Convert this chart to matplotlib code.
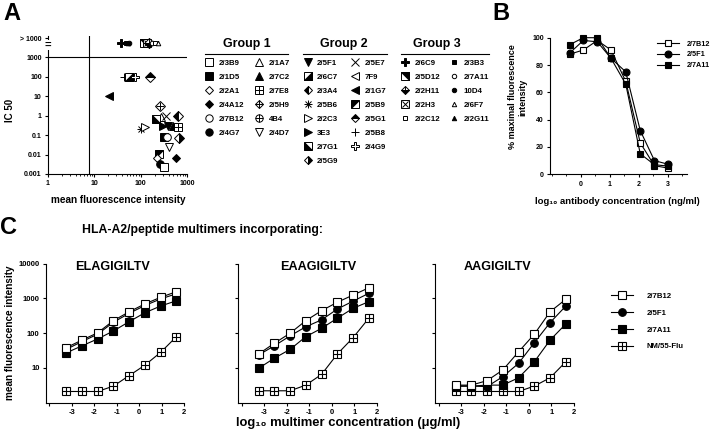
import numpy as np
import matplotlib
matplotlib.use("Agg")
import matplotlib.pyplot as plt
from matplotlib.lines import Line2D
from matplotlib.path import Path
from matplotlib.ticker import FixedLocator, NullLocator, LogLocator, NullFormatter, MultipleLocator

plt.rcParams['font.family'] = ['Liberation Sans', 'DejaVu Sans']
plt.rcParams['font.weight'] = 'bold'
plt.rcParams['axes.linewidth'] = 0.8
for a in ('xtick', 'ytick'):
    plt.rcParams[a + '.major.width'] = 0.8
    plt.rcParams[a + '.minor.width'] = 0.6
    plt.rcParams[a + '.major.size'] = 2.5
    plt.rcParams[a + '.minor.size'] = 1.5
    plt.rcParams[a + '.major.pad'] = 2

# ---------------- data ----------------
# Panel A: clone, mean fluorescence intensity, IC50
a_clones = ['2/6C9', '2/3B3', '2/2G11', '10D4', '2/5D12', '2/2H3', '2/2H11', '2/7A11', '2/2C12', '2/6F7',
            '2/5B8', '2/6C7', '2/4G9', '2/5G1', '2/1G7', '2/5H9', '2/1A7', '2/5E7', '2/3A4', '2/7G1',
            '2/5B6', '2/2C3', '3E3', '2/5F1', '2/7C2', '2/7E8', '2/1D5', '2/7B12', '2/5G9',
            '2/4D7', '2/5B9', '2/2A1', '2/4A12', '2/4G7', '2/3B9']
a_mfi = [38, 48, 52, 56, 120, 135, 150, 175, 200, 235,
         44, 56, 74, 162, 20.6, 257, 279, 346, 646, 210,
         103, 122, 303, 387, 510, 635, 312, 369, 667,
         405, 247, 224, 585, 264, 317]
a_ic50 = [5500, 5500, 5500, 5500, 5500, 5500, 5500, 5500, 5500, 5500,
          100, 100, 100, 100, 10, 3.1, 0.87, 1.0, 0.93, 0.64,
          0.2, 0.27, 0.29, 0.29, 0.29, 0.27, 0.081, 0.077, 0.072,
          0.023, 0.011, 0.0064, 0.0064, 0.0033, 0.0024]
a_yticks = [1e-3, 1e-2, 1e-1, 1, 10, 100, 1000, 9000]
a_yticklabels = ['0.001', '0.01', '0.1', '1', '10', '100', '1000', '> 1000']
a_xticks = [1, 10, 100, 1000]
a_xticklabels = ['1', '10', '100', '1000']

group_names = ['Group 1', 'Group 2', 'Group 3']
g1_col1 = ['2/3B9', '2/1D5', '2/2A1', '2/4A12', '2/7B12', '2/4G7']
g1_col2 = ['2/1A7', '2/7C2', '2/7E8', '2/5H9', '4B4', '2/4D7']
g2_col1 = ['2/5F1', '2/6C7', '2/3A4', '2/5B6', '2/2C3', '3E3', '2/7G1', '2/5G9']
g2_col2 = ['2/5E7', '7F9', '2/1G7', '2/5B9', '2/5G1', '2/5B8', '2/4G9']
g3_col1 = ['2/6C9', '2/5D12', '2/2H11', '2/2H3', '2/2C12']
g3_col2 = ['2/3B3', '2/7A11', '10D4', '2/6F7', '2/2G11']

# Panel B
b_logconc = [-0.37, 0.09, 0.57, 1.04, 1.55, 2.05, 2.54, 3.02]
b_7B12 = [88, 91, 98, 91, 68, 23, 6.3, 4.5]
b_5F1 = [89, 98, 97, 85, 75, 32, 10, 7.3]
b_7A11 = [95, 100, 100, 85, 66, 15, 7, 6]
b_series = ['2/7B12', '2/5F1', '2/7A11']

# Panel C
c_logconc = [-3.25, -2.55, -1.85, -1.15, -0.45, 0.25, 0.95, 1.65]
c_peptides = ['ELAGIGILTV', 'EAAGIGILTV', 'AAGIGILTV']
c_series = ['2/7B12', '2/5F1', '2/7A11', 'NM/55-Flu']
c_7B12 = [[38, 63, 102, 228, 410, 690, 1070, 1550],
          [25, 51, 99, 228, 440, 770, 1240, 2000],
          [3.2, 3.2, 4.3, 8.7, 29, 93, 410, 940]]
c_5F1 = [[34, 57, 93, 205, 370, 620, 960, 1350],
         [23.5, 43, 83, 152, 240, 490, 830, 1390],
         [3.0, 3.0, 2.9, 5.6, 13.5, 53, 200, 600]]
c_7A11 = [[27, 43, 68, 115, 213, 385, 600, 850],
          [9.7, 19, 34, 79, 137, 268, 515, 800],
          [3.0, 3.0, 3.2, 3.2, 5.2, 15, 63, 183]]
c_NM55 = [[2.1, 2.1, 2.1, 3.0, 6.0, 12, 28, 79],
          [2.2, 2.2, 2.2, 3.2, 6.5, 25, 74, 268],
          [2.1, 2.1, 2.1, 2.1, 2.1, 3.0, 5.2, 15]]
c_xticks = [-4, -3, -2, -1, 0, 1, 2]
c_xticklabels = ['', '-3', '-2', '-1', '0', '1', '2']
c_yticks = [10, 100, 1000, 10000]
c_yticklabels = ['10', '100', '1000', '10000']

# ---------------- marker styles ----------------
def tri(v):
    return Path(v + [v[0]], closed=True)

TRI_LR = tri([(-1, -1), (1, -1), (1, 1)])
TRI_LL = tri([(-1, -1), (1, -1), (-1, 1)])
TRI_UL = tri([(-1, 1), (1, 1), (-1, -1)])
TRI_UR = tri([(-1, 1), (1, 1), (1, -1)])

W_, K_ = 'white', 'black'
STY = {
    '2/3B9': [('s', W_, 1, 'full')],
    '2/1D5': [('s', K_, 1, 'full')],
    '2/2A1': [('D', W_, 0.8, 'full')],
    '2/4A12': [('D', K_, 0.8, 'full')],
    '2/7B12': [('o', W_, 1, 'full')],
    '2/4G7': [('o', K_, 1, 'full')],
    '2/1A7': [('^', W_, 1, 'full')],
    '2/7C2': [('^', K_, 1, 'full')],
    '2/7E8': [('s', W_, 1, 'full'), ('+', K_, 1, 'full')],
    '2/5H9': [('D', W_, 0.85, 'full'), ('+', K_, 1.1, 'full')],
    '4B4': [('o', W_, 1, 'full'), ('+', K_, 1, 'full')],
    '2/4D7': [('v', W_, 1, 'full')],
    '2/5F1': [('v', K_, 1, 'full')],
    '2/6C7': [('s', W_, 1, 'full'), (TRI_LR, K_, 1, 'full')],
    '2/3A4': [('D', K_, 0.85, 'left')],
    '2/5B6': [('+', K_, 1.1, 'full'), ('x', K_, 0.9, 'full')],
    '2/2C3': [('>', W_, 1, 'full')],
    '3E3': [('>', K_, 1, 'full')],
    '2/7G1': [('s', W_, 1, 'full'), (TRI_LL, K_, 1, 'full')],
    '2/5G9': [('D', K_, 0.85, 'right')],
    '2/5E7': [('x', K_, 1, 'full')],
    '7F9': [('<', W_, 1, 'full')],
    '2/1G7': [('<', K_, 1, 'full')],
    '2/5B9': [('s', W_, 1, 'full'), (TRI_UL, K_, 1, 'full')],
    '2/5G1': [('D', K_, 0.85, 'top')],
    '2/5B8': [('+', K_, 1.1, 'full')],
    '2/4G9': [('P', W_, 1.1, 'full')],
    '2/6C9': [('P', K_, 1.1, 'full')],
    '2/5D12': [('s', W_, 1, 'full'), (TRI_UR, K_, 1, 'full')],
    '2/2H11': [('D', K_, 0.85, 'bottom'), ('+', K_, 1.2, 'full')],
    '2/2H3': [('s', W_, 1, 'full'), ('x', K_, 0.9, 'full')],
    '2/2C12': [('s', W_, 0.6, 'full')],
    '2/3B3': [('s', K_, 0.6, 'full')],
    '2/7A11': [('o', W_, 0.6, 'full')],
    '10D4': [('o', K_, 0.6, 'full')],
    '2/6F7': [('^', W_, 0.6, 'full')],
    '2/2G11': [('^', K_, 0.6, 'full')],
}
MS_A = 5.5


def layer_kw(m, fc, sf, fs, ms):
    return dict(marker=m, mfc=fc, mfcalt='white', mec='black', color='black',
                fillstyle=fs, ms=ms * sf, mew=0.7)


def make_handle(name, ms=5.3):
    hs = [Line2D([], [], ls='none', **layer_kw(*ly, ms)) for ly in STY[name]]
    return tuple(hs) if len(hs) > 1 else hs[0]


W, H = 720, 438
fig = plt.figure(figsize=(7.2, 4.38), dpi=100)


def fx(x):
    return x / W


def fy(y):
    return 1 - y / H


def style_axes(ax, ls=5.0):
    for s in ('top', 'right'):
        ax.spines[s].set_visible(False)
    ax.tick_params(labelsize=ls, direction='out', which='both')


# ---------------- Panel A ----------------
axA = fig.add_axes([fx(48), fy(174), fx(187) - fx(48), fy(36) - fy(174)])
style_axes(axA)
axA.set_xscale('log')
axA.set_yscale('log')
axA.set_xlim(1, 1000)
axA.set_ylim(1e-3, 1.2e4)
axA.axhline(1000, color='black', lw=0.8)
axA.axvline(7.5, color='black', lw=0.8)
for n, xv, yv in zip(a_clones, a_mfi, a_ic50):
    for ly in STY[n]:
        axA.plot([xv], [yv], ls='none', clip_on=False, zorder=3, **layer_kw(*ly, MS_A))
axA.yaxis.set_major_locator(FixedLocator(a_yticks))
axA.set_yticklabels(a_yticklabels)
axA.yaxis.set_minor_locator(NullLocator())
axA.xaxis.set_major_locator(FixedLocator(a_xticks))
axA.set_xticklabels(a_xticklabels)
axA.xaxis.set_minor_locator(LogLocator(base=10, subs=np.arange(2, 10)))
axA.xaxis.set_minor_formatter(NullFormatter())
axA.text(0, 10 ** 3.6, '=', transform=axA.get_yaxis_transform(), ha='center', va='center',
         fontsize=8, fontweight='bold', zorder=5,
         bbox=dict(fc='white', ec='none', pad=0))
fig.text(fx(118), fy(200), 'mean fluorescence intensity', ha='center', va='center', fontsize=7.2)
fig.text(fx(10), fy(110), 'IC 50', ha='center', va='center', rotation=90, fontsize=7)
fig.text(fx(11.5), fy(14), 'A', ha='center', va='center', fontsize=17)

# group table
group_cols = [(g1_col1, g1_col2), (g2_col1, g2_col2), (g3_col1, g3_col2)]
col_mx = [(209, 259), (307.7, 355), (405, 454)]
title_cx = [247, 344, 437]
underline = [(205, 288), (303, 387), (401, 489)]
LFS = 5.7
em = LFS * 100 / 72
for gname, cols, mxs, tcx, ul in zip(group_names, group_cols, col_mx, title_cx, underline):
    fig.text(fx(tcx), fy(43.5), gname, ha='center', va='center', fontsize=8.9)
    fig.add_artist(Line2D([fx(ul[0]), fx(ul[1])], [fy(54.3), fy(54.3)], color='black', lw=0.8))
    for col, mx in zip(cols, mxs):
        hs = [make_handle(n) for n in col]
        fig.legend(hs, col, loc='upper left', bbox_to_anchor=(fx(mx - em / 2), fy(59.0)),
                   frameon=False, fontsize=LFS, handlelength=1.0, handletextpad=0.7,
                   labelspacing=0.82, borderpad=0, borderaxespad=0)

# ---------------- Panel B ----------------
axB = fig.add_axes([fx(550), fy(174.3), fx(686.7) - fx(550), fy(37.7) - fy(174.3)])
style_axes(axB)
axB.set_xlim(-1.06, 3.65)
axB.set_ylim(0, 100)
b_styles = {'2/7B12': ('s', 'white'), '2/5F1': ('o', 'black'), '2/7A11': ('s', 'black')}
for name, vals in zip(b_series, [b_7B12, b_5F1, b_7A11]):
    m, fc = b_styles[name]
    axB.plot(b_logconc, vals, color='black', lw=0.8, marker=m, mfc=fc, mec='black',
             ms=5, mew=0.8, clip_on=False, label=name)
axB.set_xticks([0, 1, 2, 3])
axB.xaxis.set_minor_locator(MultipleLocator(0.5))
axB.set_yticks([0, 20, 40, 60, 80, 100])
axB.legend(loc='upper left', bbox_to_anchor=(fx(656.7), fy(40.5)), bbox_transform=fig.transFigure,
           frameon=False, fontsize=5.2, handlelength=3.1, handletextpad=1.0, labelspacing=0.52,
           borderpad=0, borderaxespad=0)
fig.text(fx(617.5), fy(201.7), 'log₁₀ antibody concentration (ng/ml)', ha='center', va='center',
         fontsize=6.8)
fig.text(fx(518), fy(97), '% maximal fluorescence\nintensity', ha='center', va='center',
         rotation=90, fontsize=6.5, linespacing=1.15)
fig.text(fx(500.5), fy(13), 'B', ha='center', va='center', fontsize=17)

# ---------------- Panel C ----------------
c_left = [45.9, 238.3, 435.3]
c_title_x = [0.484, 0.576, 0.453]
c_styles = {'2/7B12': [('s', 'white')], '2/5F1': [('o', 'black')], '2/7A11': [('s', 'black')],
            'NM/55-Flu': [('s', 'white'), ('+', 'black')]}
c_data = {'2/7B12': c_7B12, '2/5F1': c_5F1, '2/7A11': c_7A11, 'NM/55-Flu': c_NM55}
draw_order = ['NM/55-Flu', '2/7A11', '2/5F1', '2/7B12']
handles = {}
for i, (pep, left) in enumerate(zip(c_peptides, c_left)):
    ax = fig.add_axes([fx(left), fy(402.7), 138.4 / W, fy(263.5) - fy(402.7)])
    style_axes(ax, 5.5)
    ax.set_yscale('log')
    ax.set_ylim(1, 1e4)
    ax.set_xlim(-4.15, 2.0)
    for name in draw_order:
        sty = c_styles[name]
        hs = []
        for j, (m, fc) in enumerate(sty):
            ax.plot(c_logconc, c_data[name][i], color='black', lw=0.8 if j == 0 else 0,
                    marker=m, mfc=fc, mec='black', ms=5.5, mew=0.8, clip_on=False)
            hs.append(Line2D([], [], color='black', lw=0.8 if j == 0 else 0, marker=m,
                             mfc=fc, mec='black', ms=5.5, mew=0.8))
        handles[name] = tuple(hs) if len(hs) > 1 else hs[0]
    ax.set_xticks(c_xticks)
    ax.set_xticklabels(c_xticklabels)
    ax.yaxis.set_major_locator(FixedLocator(c_yticks))
    ax.yaxis.set_minor_locator(NullLocator())
    if i == 0:
        ax.set_yticklabels(c_yticklabels)
    else:
        ax.set_yticklabels([])
    ax.text(c_title_x[i], 0.975, pep, transform=ax.transAxes, ha='center', va='center',
            fontsize=9.1)

fig.legend([handles[n] for n in c_series], c_series, loc='upper left',
           bbox_to_anchor=(fx(611), fy(292.2)), frameon=False, fontsize=5.6,
           handlelength=2.8, handletextpad=1.8, labelspacing=1.22, borderpad=0, borderaxespad=0)
fig.text(fx(203), fy(230), 'HLA-A2/peptide multimers incorporating:', ha='center', va='center',
         fontsize=8.8)
fig.text(fx(348), fy(423), 'log₁₀ multimer concentration (μg/ml)', ha='center', va='center',
         fontsize=9.4)
fig.text(fx(10), fy(333), 'mean fluorescence intensity', ha='center', va='center', rotation=90,
         fontsize=7.2)
fig.text(fx(8.5), fy(228), 'C', ha='center', va='center', fontsize=17)

fig.savefig('out.png', dpi=100)
